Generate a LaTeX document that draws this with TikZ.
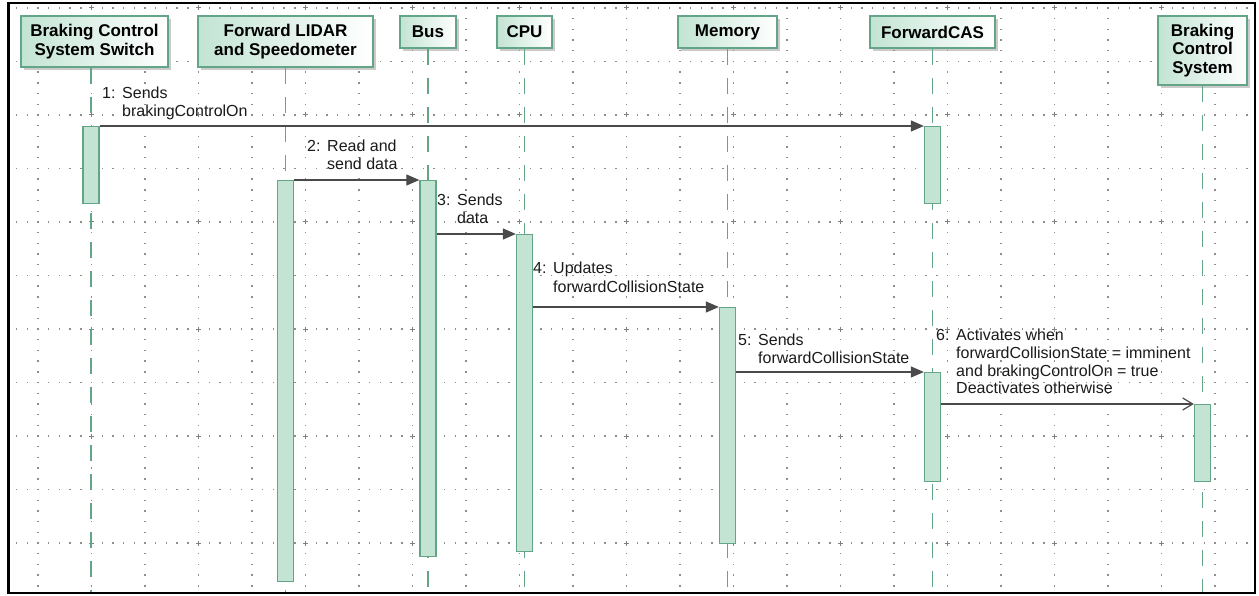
\documentclass[tikz,border=0pt]{standalone}
\usepackage{fontspec}
\setmainfont{Liberation Sans}
\usetikzlibrary{arrows.meta,shadows}
\definecolor{lifeg}{HTML}{64A487}
\definecolor{barfill}{HTML}{C3E3D3}
\definecolor{hdrfill}{HTML}{C2E4D3}
\definecolor{msgc}{HTML}{4A4A4A}
\definecolor{dotc}{HTML}{8E8E8E}
\definecolor{plusc}{HTML}{808080}
\definecolor{txtc}{HTML}{1A1A1A}
\newcommand{\lblfont}{\fontsize{16pt}{18pt}\selectfont}
\newcommand{\hdrfont}{\fontsize{17pt}{18.5pt}\selectfont\bfseries}
\newcommand{\msglbl}[2]{\begin{tabular}[t]{@{}l@{}l@{}}\makebox[20pt][l]{#1}&#2\end{tabular}}
\begin{document}
\begin{tikzpicture}[x=1pt,y=-1pt,
  hdr/.style={draw=lifeg, line width=1.6pt, left color=hdrfill, right color=white,
    font=\hdrfont, text=black, align=center, inner sep=0pt,
    drop shadow={shadow xshift=3pt, shadow yshift=-3pt, fill=black!45, opacity=0.45}},
  bar/.style={draw=lifeg, fill=barfill, line width=1.3pt, minimum width=16pt, inner sep=0pt, anchor=north},
  life/.style={draw=lifeg, line width=1.3pt, dash pattern=on 16pt off 13pt},
  msg/.style={draw=msgc, line width=1.2pt, -{Triangle[length=13pt,width=11pt]}},
  amsg/.style={draw=msgc, line width=1.2pt, -{Straight Barb[length=10pt,width=12pt]}},
  lbl/.style={anchor=base west, inner sep=0pt, font=\lblfont, text=txtc}]
\useasboundingbox (0,0) rectangle (1259,596);
% grid
\foreach \k in {-1,...,21}{
  \foreach \j in {0,...,54}{
    \fill[dotc] ({91.5+53.5*\k-0.7},{8+10.7*\j-0.7}) rectangle ++(1.4,1.4);
  }
}
\foreach \k in {0,...,10}{
  \foreach \j in {-7,...,108}{
    \fill[dotc] ({91.5+10.7*\j-0.7},{8+53.5*\k-0.7}) rectangle ++(1.4,1.4);
  }
}
\foreach \a in {0,...,10}{
  \foreach \b in {0,...,5}{
    \draw[plusc, line width=1pt] ({91.5+107*\a-2.5},{8+107*\b}) -- ++(5,0)
      ({91.5+107*\a},{8+107*\b-2.5}) -- ++(0,5);
  }
}
% headers
\node[hdr, minimum width=147pt, minimum height=51pt] (h1) at (94.5,41.5) {Braking Control\\System Switch};
\node[hdr, minimum width=175pt, minimum height=51pt] (h2) at (285.5,41.5) {Forward LIDAR\\and Speedometer};
\node[hdr, minimum width=56pt, minimum height=32pt] (h3) at (428,32) {Bus};
\node[hdr, minimum width=55pt, minimum height=32pt] (h4) at (524.5,32) {CPU};
\node[hdr, minimum width=99pt, minimum height=32pt] (h5) at (727.5,32) {Memory};
\node[hdr, minimum width=125pt, minimum height=32pt] (h6) at (932.5,32) {ForwardCAS};
\node[hdr, minimum width=89pt, minimum height=69pt] (h7) at (1202.5,50.5) {Braking\\Control\\System};
% lifeline ends
\coordinate (e1) at (91,592);
\coordinate (e2) at (285.5,592);
\coordinate (e3) at (428,592);
\coordinate (e4) at (524.5,592);
\coordinate (e5) at (727.5,592);
\coordinate (e6) at (932.5,592);
\coordinate (e7) at (1202.5,592);
\foreach \i in {1,...,7}{\draw[life] (e\i |- h\i.south) -- (e\i);}
% activation bars
\node[bar, minimum height=77pt] (b1) at (91,126) {};
\node[bar, minimum height=401pt] (b2) at (285.5,180) {};
\node[bar, minimum height=376pt] (b3) at (428,180) {};
\node[bar, minimum height=317pt] (b4) at (524.5,234) {};
\node[bar, minimum height=236pt] (b5) at (727.5,307) {};
\node[bar, minimum height=77pt] (b6) at (932.5,126) {};
\node[bar, minimum height=109pt] (b7) at (932.5,372) {};
\node[bar, minimum height=77pt] (b8) at (1202.5,404) {};
% messages
\draw[msg] (b1.east |- b6.north) -- (b6.north west);
\draw[msg] (b2.east |- b3.north) -- (b3.north west);
\draw[msg] (b3.east |- b4.north) -- (b4.north west);
\draw[msg] (b4.east |- b5.north) -- (b5.north west);
\draw[msg] (b5.east |- b7.north) -- (b7.north west);
\draw[amsg] (b7.east |- b8.north) -- (b8.north west);
% labels
\node[lbl] (l1) at (102,99) {\msglbl{1:}{Sends\\&brakingControlOn}};
\node[lbl] (l2) at (307,152) {\msglbl{2:}{Read and\\&send data}};
\node[lbl] (l3) at (437,206) {\msglbl{3:}{Sends\\&data}};
\node[lbl] (l4) at (533,274) {\msglbl{4:}{Updates\\&forwardCollisionState}};
\node[lbl] (l5) at (738,345) {\msglbl{5:}{Sends\\&forwardCollisionState}};
\node[lbl] (l6) at (936,340) {\msglbl{6:}{Activates when\\&forwardCollisionState = imminent\\&and brakingControlOn = true\\&Deactivates otherwise}};
% frame
\draw[line width=2.5pt] (8.5,3.2) rectangle (1255,593);
\end{tikzpicture}
\end{document}
